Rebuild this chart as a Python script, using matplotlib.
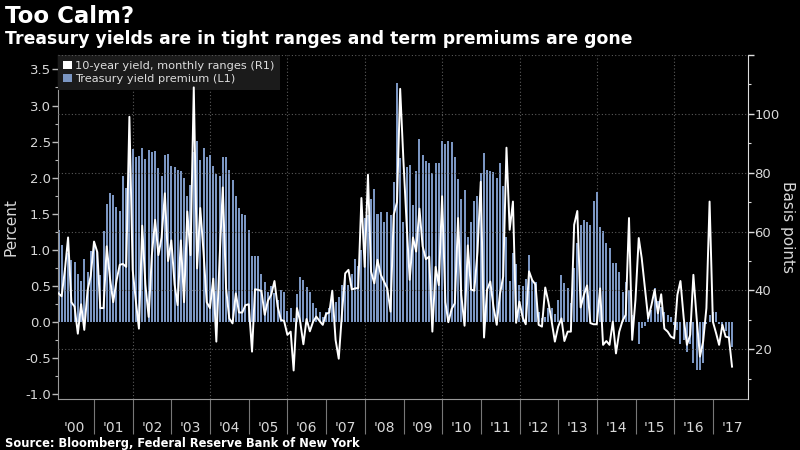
import matplotlib
matplotlib.use("Agg")
import matplotlib.pyplot as plt
import matplotlib.dates as mdates
import matplotlib.ticker as mticker
from matplotlib.patches import Patch
import pandas as pd

# monthly data, Jan 2000 .. Jun 2017
premium = [
    1.27, 1.07, 0.75, 0.95, 0.86, 0.83, 0.67, 0.57, 0.88, 0.70, 0.98, 1.05,
    0.98, 0.65, 1.26, 1.63, 1.79, 1.76, 1.60, 1.54, 2.02, 1.86, 2.36, 2.40,
    2.29, 2.30, 2.41, 2.26, 2.39, 2.35, 2.37, 2.13, 2.03, 2.32, 2.33, 2.16,
    2.15, 2.11, 2.09, 2.00, 1.75, 1.90, 2.36, 2.51, 2.25, 2.41, 2.28, 2.31,
    2.16, 2.05, 2.03, 2.28, 2.28, 2.10, 1.97, 1.75, 1.58, 1.50, 1.48, 1.28,
    0.92, 0.91, 0.92, 0.66, 0.55, 0.42, 0.50, 0.40, 0.30, 0.45, 0.41, 0.15,
    0.19, 0.06, 0.39, 0.62, 0.58, 0.49, 0.42, 0.26, 0.20, 0.14, 0.07, 0.14,
    0.19, 0.33, 0.28, 0.35, 0.51, 0.65, 0.51, 0.67, 0.87, 0.77, 1.00, 1.44,
    1.48, 1.70, 1.84, 1.50, 1.53, 1.38, 1.52, 1.49, 1.94, 3.31, 2.27, 1.39,
    2.15, 2.17, 1.62, 2.09, 2.54, 2.32, 2.23, 2.21, 2.07, 2.21, 2.20, 2.51,
    2.47, 2.51, 2.49, 2.28, 1.98, 1.71, 1.83, 1.18, 1.38, 1.68, 1.74, 2.07,
    2.34, 2.11, 2.09, 2.08, 2.00, 2.21, 1.89, 1.18, 0.57, 0.96, 0.81, 0.52,
    0.50, 0.60, 0.93, 0.58, 0.56, 0.14, 0.05, 0.07, 0.19, 0.19, 0.11, 0.31,
    0.65, 0.54, 0.47, 0.26, 0.75, 1.10, 1.35, 1.41, 1.39, 1.35, 1.68, 1.80,
    1.32, 1.26, 1.09, 1.03, 0.82, 0.82, 0.69, 0.42, 0.55, 0.44, 0.10, 0.00,
    -0.30, -0.08, -0.06, 0.05, 0.17, 0.47, 0.29, 0.21, 0.14, 0.10, 0.07, -0.04,
    -0.11, -0.30, -0.25, -0.41, -0.30, -0.57, -0.66, -0.66, -0.57, -0.02, 0.10, 0.14,
    0.14, -0.02, -0.06, -0.13, -0.23, -0.34,
]

yield_range = [
    39, 38, 47, 58, 36, 34.5, 25.3, 35.3, 26.6, 40, 45, 56.6,
    53, 34, 34, 55, 44, 36, 43.3, 48.7, 49, 48, 99, 47,
    36, 27, 62, 42, 31, 52, 64, 52, 58, 73, 50, 57,
    42, 35, 57, 36, 66.8, 52, 109, 47.5, 68, 53, 36, 34,
    44, 22.6, 51, 75, 40.7, 30.5, 28.8, 39, 32.5, 32.5, 35, 35.3,
    19.2, 40.4, 40.2, 39.8, 31.7, 36.5, 38.5, 43.2, 34.5, 30, 29.6, 24.9,
    26, 12.8, 34, 29.6, 21.7, 30.3, 26.1, 29.4, 31.1, 29.6, 28.3, 32,
    32.5, 39.9, 23.2, 16.8, 32.5, 45.8, 47, 40.3, 40.7, 40.8, 71.4, 48,
    79.3, 46.4, 42.4, 50.4, 45.3, 43, 40.7, 32.8, 65.7, 70, 108.5, 84,
    62, 43.6, 58, 53.2, 67.8, 55, 50.6, 51.5, 26, 48, 41.8, 72,
    36, 29.2, 33.7, 35.6, 64.6, 38.5, 28, 55.3, 40.3, 39.9, 53, 76.9,
    24, 40.2, 43, 34.5, 28.3, 38.8, 44.7, 88.5, 60.6, 70.2, 29, 36.2,
    30.8, 28.5, 46.5, 43.5, 42, 28.3, 27.7, 41, 36, 29.4, 22.6, 27.7,
    30.5, 22.8, 26, 26, 62.3, 67, 34.2, 38.5, 41.7, 28.9, 28.5, 28.5,
    40.7, 21.5, 22.8, 21.5, 29.4, 18.6, 26, 29.7, 31.7, 64.6, 23.2, 36.8,
    57.8, 51, 40.7, 30.5, 35, 40.2, 32.2, 38.7, 27, 26, 24.3, 23.7,
    38.5, 43.2, 30.5, 21.5, 24.9, 45.3, 30.5, 17.5, 22.6, 34, 70.2, 29.4,
    25.4, 21.5, 28.3, 24.3, 24, 14.1,
]

grid_years = [2002, 2004, 2006, 2008, 2010, 2012, 2014, 2016]
left_ticks = [-1.0, -0.5, 0.0, 0.5, 1.0, 1.5, 2.0, 2.5, 3.0, 3.5]
right_ticks = [20, 40, 60, 80, 100, 120]
right_labels = ["20", "40", "60", "80", "100", ""]

bar_color = "#7b96c2"
text_color = "#d8d8d8"
grid_color = "#5a5a5a"

plt.rcParams["axes.unicode_minus"] = False
plt.rcParams["font.family"] = ["DejaVu Sans"]

months = pd.date_range("2000-01-31", periods=len(premium), freq="ME")

fig = plt.figure(figsize=(8, 4.5), dpi=100, facecolor="black")
ax = fig.add_axes([0.072, 0.1133, 0.8625, 0.7645])
ax.set_facecolor("black")

for yr in grid_years:
    ax.axvline(pd.Timestamp(f"{yr}-01-01"), color=grid_color, lw=0.8, ls=(0, (1, 2)), zorder=1)

ax.bar(months, premium, width=19, color=bar_color, zorder=2)
ax.set_ylim(-1.066, 3.70)
ax.set_xlim(pd.Timestamp("2000-01-22"), pd.Timestamp("2017-11-24"))

ax2 = ax.twinx()
ax2.plot(months, yield_range, color="white", lw=1.4, zorder=3)
ax2.set_ylim(3.1, 120)

# x axis: long year separators, labels in the middle of each year
ax.xaxis.set_major_locator(mdates.YearLocator(1))
ax.xaxis.set_major_formatter(mticker.NullFormatter())
ax.xaxis.set_minor_locator(mdates.MonthLocator(bymonth=7, bymonthday=1))
ax.xaxis.set_minor_formatter(mdates.DateFormatter("'%y"))
ax.tick_params(axis="x", which="major", length=25, width=0.8, color="#777777", direction="out")
ax.tick_params(axis="x", which="minor", length=0, pad=16, labelsize=10, labelcolor=text_color)

# left axis
ax.set_yticks(left_ticks)
ax.yaxis.set_major_formatter(mticker.FormatStrFormatter("%.1f"))
ax.yaxis.set_minor_locator(mticker.MultipleLocator(0.25))
ax.tick_params(axis="y", which="major", length=4, width=1, color="#bbbbbb", pad=1, labelsize=9.5, labelcolor=text_color)
ax.tick_params(axis="y", which="minor", length=2, width=0.8, color="#bbbbbb")

# right axis
ax2.set_yticks(right_ticks)
ax2.set_yticklabels(right_labels)
ax2.yaxis.set_minor_locator(mticker.MultipleLocator(10))
ax2.tick_params(axis="y", which="major", length=4, width=1, color="#dddddd", pad=1, labelsize=9.5, labelcolor=text_color)
ax2.tick_params(axis="y", which="minor", length=2, width=0.8, color="#dddddd")
ax2.yaxis.grid(True, color=grid_color, lw=0.8, ls=(0, (1, 2)))

for s in ["top", "right"]:
    ax.spines[s].set_visible(False)
for s in ["top", "left", "bottom"]:
    ax2.spines[s].set_visible(False)
ax.spines["left"].set_color("#999999")
ax.spines["bottom"].set_color("#999999")
ax2.spines["right"].set_color("#dddddd")

handles = [
    Patch(facecolor="white", label="10-year yield, monthly ranges (R1)"),
    Patch(facecolor=bar_color, label="Treasury yield premium (L1)"),
]
leg = ax.legend(handles=handles, loc="upper left", bbox_to_anchor=(0, 1), borderaxespad=0,
                frameon=True, fancybox=False, facecolor="#1b1b1b", edgecolor="none", framealpha=1,
                fontsize=8.2, labelcolor="#dddddd", handlelength=0.75, handleheight=0.75,
                handletextpad=0.3, labelspacing=0.25, borderpad=0.5)
leg.set_zorder(5)

fig.text(11 / 800, 1 - 227 / 450, "Percent", rotation=90, color=text_color, fontsize=11, ha="center", va="center")
fig.text(788 / 800, 1 - 227 / 450, "Basis points", rotation=270, color=text_color, fontsize=11, ha="center", va="center")

fig.text(5 / 800, 1 - 5 / 450, "Too Calm?", color="white", fontsize=16.5, weight="bold", ha="left", va="top")
fig.text(5 / 800, 1 - 30 / 450, "Treasury yields are in tight ranges and term premiums are gone",
         color="white", fontsize=12.4, weight="bold", ha="left", va="top")
fig.text(5 / 800, 1 - 443 / 450, "Source: Bloomberg, Federal Reserve Bank of New York",
         color="white", fontsize=8.3, weight="bold", ha="left", va="center")

fig.savefig("out.png", dpi=100, facecolor="black")
